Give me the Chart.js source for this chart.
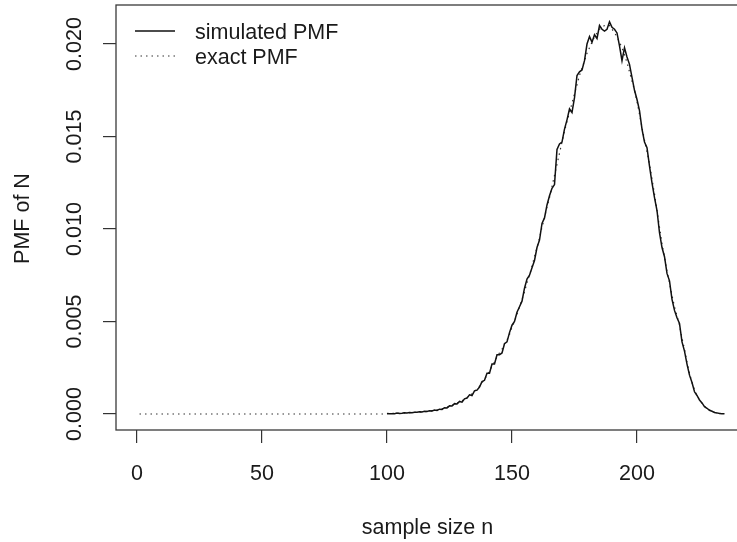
<!DOCTYPE html>
<html>
<head>
  <title>PMF of N</title>
  <meta charset="UTF-8">
  <script src="https://cdn.jsdelivr.net/npm/chart.js"></script>
  <style>
    body { margin: 0; background: #fff; }
  </style>
</head>
<body>
  <canvas id="pmfChart" width="737" height="542"></canvas>

  <script>
    // sample sizes n = 1..235 (exact PMF) and n = 100..235 (simulated PMF)
    const exactStartN = 1;
    const simStartN = 100;

    const xTicks = [0, 50, 100, 150, 200];
    const yTicks = [0, 0.005, 0.010, 0.015, 0.020];
    const yTickLabels = ['0.000', '0.005', '0.010', '0.015', '0.020'];

    const exactPMF = [
      0,0,0,0,0,0,0,0,0,0, 0,0,0,0,0,0,0,0,0,0,
      0,0,0,0,0,0,0,0,0,0, 0,0,0,0,0,0,0,0,0,0,
      0,0,0,0,0,0,0,0,0,0, 0,0,0,0,0,0,0,0,0,0,
      0,0,0,0,0,0,0,0,0,0, 0,0,0,0,0,0,0,0,0,0,
      0,0,0,0,0,0,0,0,0,0, 0,0,0,0,0,0,0,0,0,
      // n = 100..
      0.00002,0.00002,0.00003,0.00003,0.00004,0.00004,0.00005,0.00006,0.00006,0.00007,
      0.00008,0.00009,0.00010,0.00011,0.00012,0.00013,0.00014,0.00016,0.00017,0.00019,
      0.00021,0.00024,0.00028,0.00032,0.00036,0.00041,0.00047,0.00053,0.00059,0.00065,
      0.00072,0.00080,0.00089,0.00099,0.00109,0.00120,0.00135,0.00150,0.00168,0.00188,
      0.0021,0.0023,0.0026,0.0028,0.0031,0.0033,0.0035,0.0038,0.0040,0.0043,
      0.0047,0.0050,0.0054,0.0058,0.0062,0.0066,0.0071,0.0075,0.0080,0.0085,
      0.0090,0.0095,0.0101,0.0106,0.0112,0.0117,0.0123,0.0129,0.0135,0.0141,
      0.0147,0.0153,0.0158,0.0163,0.0168,0.0173,0.0178,0.0183,0.0187,0.0191,
      0.0195,0.0198,0.0201,0.0204,0.0206,0.0208,0.0209,0.0210,0.0210,0.0210,
      0.0208,0.0206,0.0204,0.0201,0.0198,0.0194,0.0190,0.0185,0.0180,0.0175,
      0.0169,0.0162,0.0155,0.0148,0.0142,0.0135,0.0127,0.0119,0.0110,0.0101,
      0.0092,0.0085,0.0077,0.0071,0.0064,0.0058,0.0053,0.0048,0.0041,0.0035,
      0.0028,0.0022,0.0017,0.0013,0.0010,0.00078,0.00058,0.00042,0.00030,0.00021,
      0.00014,0.00009,0.00006,0.00004,0.00002,0.00001
    ];

    const simulatedPMF = [
      0.00003,0.00001,0.00002,0.00002,0.00005,0.00003,0.00004,0.00007,0.00005,0.00008,
      0.00007,0.00010,0.00009,0.00012,0.00011,0.00015,0.00013,0.00017,0.00016,0.00021,
      0.00019,0.00026,0.00025,0.00034,0.00033,0.00044,0.00043,0.00056,0.00054,0.00068,
      0.00064,0.00082,0.00086,0.00104,0.00100,0.00125,0.00129,0.00146,0.00175,0.00182,
      0.0022,0.0022,0.0027,0.0027,0.0032,0.0032,0.0033,0.0038,0.0039,0.0044,
      0.0048,0.0050,0.0055,0.0058,0.0061,0.0068,0.0073,0.0075,0.0079,0.0083,
      0.0090,0.0094,0.0103,0.0106,0.0113,0.0118,0.0122,0.0124,0.0143,0.0146,
      0.0147,0.0154,0.0159,0.0165,0.0163,0.0171,0.0183,0.0185,0.0186,0.0191,
      0.0200,0.0204,0.0201,0.0205,0.0203,0.0210,0.0208,0.0207,0.0208,0.0212,
      0.0209,0.0208,0.0206,0.0199,0.0191,0.0198,0.0193,0.0189,0.0182,0.0175,
      0.0170,0.0164,0.0154,0.0147,0.0144,0.0134,0.0125,0.0117,0.0110,0.0098,
      0.0090,0.0085,0.0076,0.0072,0.0062,0.0056,0.0052,0.0049,0.0039,0.0034,
      0.0027,0.0021,0.0017,0.0012,0.0010,0.00075,0.00060,0.00040,0.00031,0.00020,
      0.00015,0.00008,0.00006,0.00003,0.00002,0.00001
    ];

    function toPoints(values, startN) {
      return values.map((v, i) => ({ x: startN + i, y: v }));
    }

    const FONT = '21.5px "Liberation Sans", Arial, Helvetica, sans-serif';
    const INK = '#1a1a1a';

    // R-style box, tick labels, axis titles and legend
    const rStyle = {
      id: 'rStyle',
      afterDraw(chart) {
        const c = chart.ctx;
        const a = chart.chartArea;
        const xs = chart.scales.x, ys = chart.scales.y;
        c.save();
        c.strokeStyle = '#3a3a3a';
        c.lineWidth = 1.3;
        c.strokeRect(a.left, a.top, a.right - a.left + 20, a.bottom - a.top);

        c.fillStyle = INK;
        c.font = FONT;
        c.textAlign = 'center';
        c.textBaseline = 'alphabetic';
        xTicks.forEach(t => c.fillText(String(t), xs.getPixelForValue(t), 480));
        c.fillText('sample size n', (a.left + 737) / 2 + 1, 534);

        yTicks.forEach((t, i) => {
          c.save();
          c.translate(81, ys.getPixelForValue(t));
          c.rotate(-Math.PI / 2);
          c.fillText(yTickLabels[i], 0, 0);
          c.restore();
        });
        c.save();
        c.translate(29, (a.top + a.bottom) / 2 + 1);
        c.rotate(-Math.PI / 2);
        c.fillText('PMF of N', 0, 0);
        c.restore();

        // legend
        c.textAlign = 'left';
        chart.data.datasets.forEach((ds, i) => {
          const y = 31 + i * 25;
          c.beginPath();
          c.strokeStyle = ds.borderColor;
          c.lineWidth = ds.borderWidth;
          c.setLineDash(ds.borderDash || []);
          c.moveTo(135, y);
          c.lineTo(175, y);
          c.stroke();
          c.setLineDash([]);
          c.fillText(ds.label, 195, y + 8);
        });
        c.restore();
      }
    };

    const ctx = document.getElementById('pmfChart').getContext('2d');
    new Chart(ctx, {
      type: 'line',
      data: {
        datasets: [{
          label: 'simulated PMF',
          data: toPoints(simulatedPMF, simStartN),
          borderColor: '#111',
          borderWidth: 1.5,
          pointRadius: 0,
          tension: 0
        }, {
          label: 'exact PMF',
          data: toPoints(exactPMF, exactStartN),
          borderColor: '#333',
          borderWidth: 1.2,
          borderDash: [1.5, 4],
          pointRadius: 0,
          tension: 0
        }]
      },
      options: {
        responsive: false,
        animation: false,
        layout: { padding: { top: 5, right: 0, bottom: 0, left: 0 } },
        plugins: { legend: { display: false }, tooltip: { enabled: false } },
        scales: {
          x: {
            type: 'linear',
            min: -8.4,
            max: 240,
            afterFit(s) { s.height = 112; },
            afterBuildTicks(s) { s.ticks = xTicks.map(v => ({ value: v })); },
            ticks: { display: false },
            border: { display: false },
            grid: { drawOnChartArea: false, drawTicks: true, tickLength: 13, color: '#333', lineWidth: 1.2 }
          },
          y: {
            min: -0.000865,
            max: 0.02211,
            afterFit(s) { s.width = 116; },
            afterBuildTicks(s) { s.ticks = yTicks.map(v => ({ value: v })); },
            ticks: { display: false },
            border: { display: false },
            grid: { drawOnChartArea: false, drawTicks: true, tickLength: 13, color: '#333', lineWidth: 1.2 }
          }
        }
      },
      plugins: [rStyle]
    });
  </script>
</body>
</html>
